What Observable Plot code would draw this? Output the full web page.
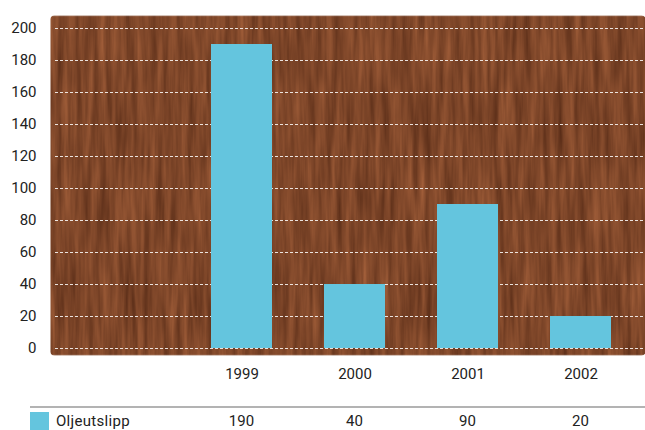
<!DOCTYPE html>
<html>
<head>
<meta charset="utf-8">
<script src="https://cdn.jsdelivr.net/npm/d3@7"></script>
<script src="https://cdn.jsdelivr.net/npm/@observablehq/plot@0.6"></script>
<style>
  html, body { margin: 0; padding: 0; background: #fff; }
  #wrap { position: relative; width: 645px; height: 430px; overflow: hidden; font-family: Roboto, sans-serif; color: #222; }
  #table { position: absolute; left: 0; top: 400px; width: 645px; height: 30px; }
  #table .rule { position: absolute; left: 30px; right: 0; top: 6px; height: 2px; background: #b3b3b3; }
  #table .swatch { position: absolute; left: 30px; top: 12px; width: 19px; height: 20px; background: #64c5de; }
  #table .name { position: absolute; left: 56px; top: 11px; font-size: 15px; line-height: 20px; letter-spacing: 0.3px; }
  #table .val { position: absolute; top: 11px; font-size: 15px; line-height: 20px; transform: translateX(-50%); }
</style>
</head>
<body>
<div id="wrap"><div id="table"></div></div>
<script>
// Oil discharge per year
const years = ["1999", "2000", "2001", "2002"];
const oljeutslipp = [190, 40, 90, 20];
const seriesName = "Oljeutslipp";
const yTicks = [0, 20, 40, 60, 80, 100, 120, 140, 160, 180, 200];
const barColor = "#64c5de";

const rows = years.map((year, i) => ({year, value: oljeutslipp[i]}));

const chart = Plot.plot({
  width: 645,
  height: 400,
  marginTop: 15,
  marginBottom: 45,
  marginLeft: 50,
  marginRight: 0,
  style: {fontFamily: "Roboto, sans-serif", fontSize: "15px", color: "#222", background: "transparent"},
  x: {domain: years, range: [185, 638], paddingInner: 0.46, paddingOuter: 0.23, label: null},
  y: {domain: [0, 200], range: [348, 28], label: null},
  marks: [
    Plot.frame({fill: "#7e4629", stroke: "none", rx: 4}),
    Plot.gridY(yTicks, {stroke: "#fff", strokeOpacity: 0.85, strokeWidth: 1, strokeDasharray: "3,2", insetLeft: 5}),
    Plot.barY(rows, {x: "year", y: "value", fill: barColor}),
    Plot.axisY(yTicks, {tickSize: 0, tickPadding: 14, label: null, fill: "#222"}),
    Plot.axisX({tickSize: 0, tickPadding: 13, label: null, fill: "#222"})
  ]
});

// Wood-grain texture for the plot panel
const svg = d3.select(chart);
const defs = svg.insert("defs", ":first-child");
const f = defs.append("filter").attr("id", "wood")
  .attr("x", 0).attr("y", 0).attr("width", 1).attr("height", 1)
  .attr("color-interpolation-filters", "sRGB");
f.append("feTurbulence").attr("type", "fractalNoise")
  .attr("baseFrequency", "0.16 0.012").attr("numOctaves", 3).attr("seed", 7).attr("result", "noise");
f.append("feColorMatrix").attr("in", "noise").attr("type", "matrix")
  .attr("values", "0.32 0 0 0 0.335  0.22 0 0 0 0.165  0.15 0 0 0 0.085  0 0 0 0 1").attr("result", "tone");
f.append("feGaussianBlur").attr("in", "tone").attr("stdDeviation", "0.5 1").attr("result", "soft");
f.append("feComposite").attr("in", "soft").attr("in2", "SourceGraphic").attr("operator", "in");
svg.selectAll("[aria-label=frame]").attr("filter", "url(#wood)");

document.getElementById("wrap").prepend(chart);

// Data table row under the chart, aligned to the band centres
const x = chart.scale("x");
const table = document.getElementById("table");
table.innerHTML = `<div class="rule"></div><div class="swatch" style="background:${barColor}"></div><div class="name">${seriesName}</div>`;
rows.forEach(d => {
  const el = document.createElement("div");
  el.className = "val";
  el.style.left = (x.apply(d.year) + x.bandwidth / 2) + "px";
  el.textContent = d.value;
  table.appendChild(el);
});
</script>
</body>
</html>
